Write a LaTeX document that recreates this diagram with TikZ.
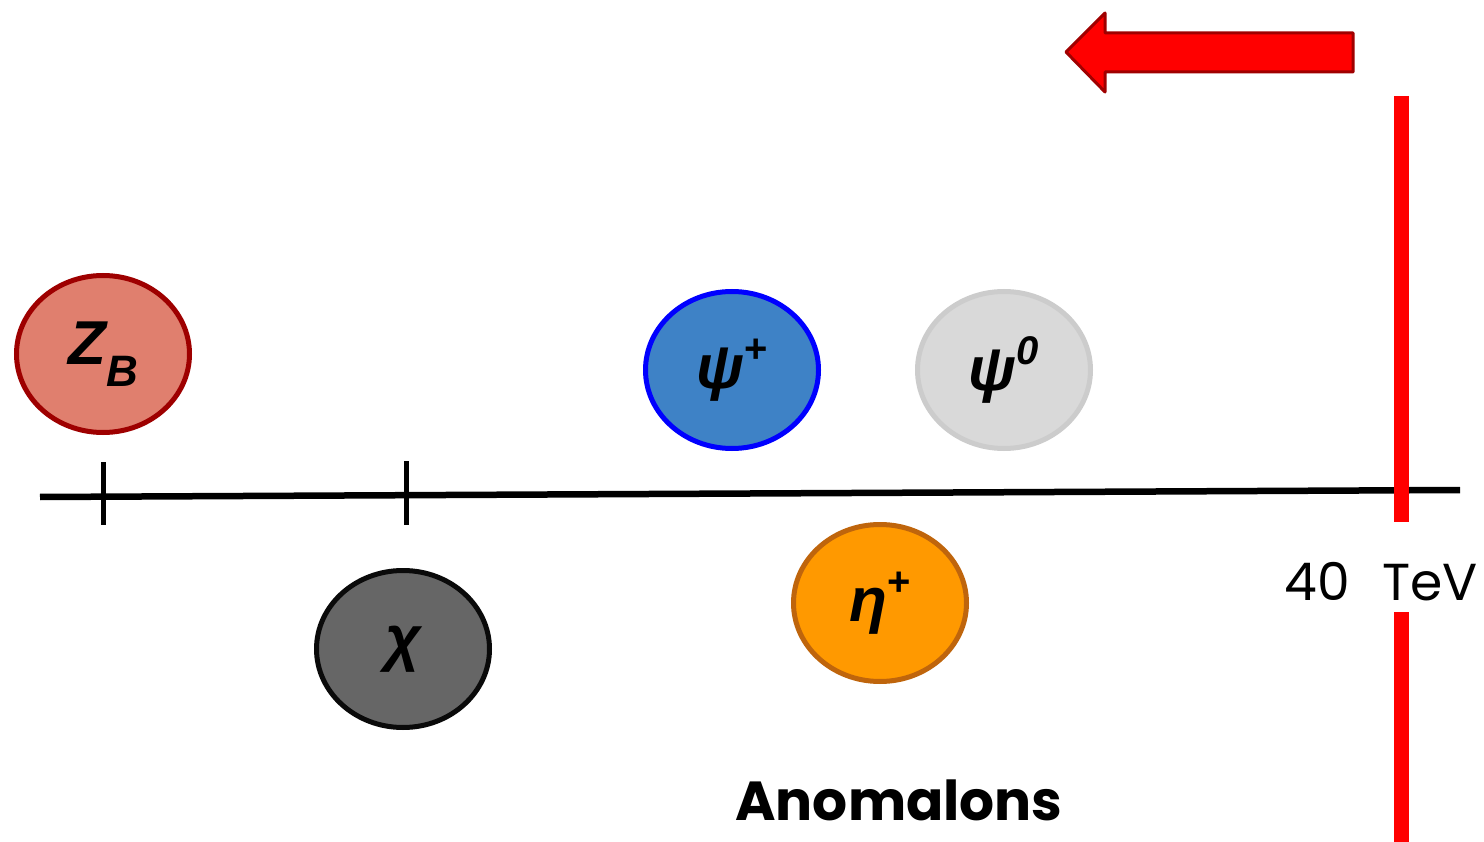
\documentclass[tikz,border=0pt]{standalone}
\usepackage{fontspec}
\setmainfont{Liberation Sans}
\newfontfamily\anfont{Poppins}
\newfontfamily\lab{Liberation Sans}
\usetikzlibrary{shapes.geometric}
\definecolor{zbfill}{HTML}{E07F6E}
\definecolor{zbdraw}{HTML}{9E0000}
\definecolor{psipfill}{HTML}{3E82C6}
\definecolor{psipdraw}{HTML}{0000FF}
\definecolor{psizfill}{HTML}{D9D9D9}
\definecolor{psizdraw}{HTML}{CCCCCC}
\definecolor{chifill}{HTML}{666666}
\definecolor{chidraw}{HTML}{0A0A0A}
\definecolor{etafill}{HTML}{FF9900}
\definecolor{etadraw}{HTML}{BF650C}
\definecolor{arrowdraw}{HTML}{A00000}
\tikzset{
  particle/.style={ellipse, minimum width=173pt, minimum height=157pt, line width=5pt, inner sep=0pt,
    font=\lab\bfseries\itshape\fontsize{62}{66}\selectfont},
  axisline/.style={line width=6.5pt, black},
  tickline/.style={line width=5pt, black},
  limitline/.style={line width=15pt, red},
  energy/.style={font=\anfont\fontsize{52}{56}\selectfont, inner sep=0pt},
}
\newcommand{\supl}[1]{\raisebox{0.42em}{\fontsize{40}{42}\selectfont #1}}
\newcommand{\subl}[1]{\raisebox{-0.36em}{\fontsize{44}{44}\selectfont #1}}
\begin{document}
\begin{tikzpicture}[x=1pt,y=-1pt]
\useasboundingbox (0,0) rectangle (1484,842);
% axis
\coordinate (axL) at (40,497);
\coordinate (axR) at (1460,490);
\draw[axisline] (axL) -- (axR);
\coordinate (t1a) at (103,462); \coordinate (t1b) at (103,525);
\coordinate (t2a) at (406,461); \coordinate (t2b) at (406,525);
\draw[tickline] (t1a) -- (t1b);
\draw[tickline] (t2a) -- (t2b);
% limit line
\coordinate (l1a) at (1401,96); \coordinate (l1b) at (1401,522);
\coordinate (l2a) at (1401,612); \coordinate (l2b) at (1401,842);
\draw[limitline] (l1a) -- (l1b);
\draw[limitline] (l2a) -- (l2b);
% arrow
\draw[line width=3pt, arrowdraw, fill=red, line join=round]
  (1353,33) -- (1105,33) -- (1105,13) -- (1066,52) -- (1105,92) -- (1105,72) -- (1353,72) -- cycle;
% particles
\node[particle, fill=zbfill, draw=zbdraw] (zb) at (103,354) {Z\subl{B}};
\node[particle, fill=psipfill, draw=psipdraw] (psip) at (732,370) {ψ\supl{\upshape +}};
\node[particle, fill=psizfill, draw=psizdraw] (psiz) at (1004,370) {ψ\supl{0}};
\node[particle, fill=chifill, draw=chidraw] (chi) at (403,649) {χ};
\node[particle, fill=etafill, draw=etadraw] (eta) at (880,603) {η\supl{\upshape +}};
% labels
\node[energy, anchor=base east] (forty) at (1350,600) {40};
\node[energy, anchor=base west] (tev) at (1382,600) {TeV};
\node[font=\anfont\bfseries\fontsize{55}{60}\selectfont, inner sep=0pt, anchor=base] (anom) at (899,820) {Anomalons};
\end{tikzpicture}
\end{document}
